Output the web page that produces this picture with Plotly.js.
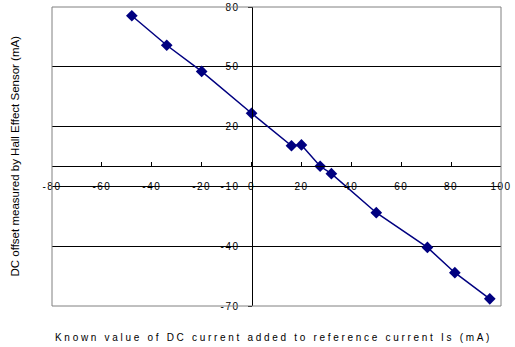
<!DOCTYPE html>
<html><head><meta charset="utf-8">
<script src="https://cdn.plot.ly/plotly-3.0.1.min.js"></script>
<style>
body{margin:0;background:#fff}
#chart{width:515px;height:347px}
.xtick text,.ytick text{letter-spacing:1.5px}
g.annotation[data-index="0"] text{letter-spacing:2.7px}
</style></head><body><div id="chart"></div>
<script>
const knownCurrent = [-48, -34, -20, 0, 16, 20, 27.5, 32, 50, 70.5, 81.5, 95.5];
const measuredOffset = [75.6, 60.8, 47.7, 26.7, 10.4, 10.8, 0.1, -3.6, -23.2, -40.6, -53.3, -66.4];
const xTickVals = [-80, -60, -40, -20, 0, 20, 40, 60, 80, 100];
const yTickVals = [-70, -40, -10, 20, 50, 80];
const xTitle = "Known value of DC current added to reference current Is (mA)";
const yTitle = "DC offset measured by Hall Effect Sensor (mA)";

const font = "Liberation Sans, Arial, sans-serif";
const trace = {
  x: knownCurrent, y: measuredOffset, type: 'scatter', mode: 'lines+markers',
  line: {color: '#000080', width: 1.5},
  marker: {symbol: 'diamond', size: 9, color: '#000080'},
  cliponaxis: false, hoverinfo: 'skip'
};
const layout = {
  width: 515, height: 347,
  margin: {l: 52, r: 14, t: 7, b: 41},
  paper_bgcolor: '#fff', plot_bgcolor: '#fff',
  showlegend: false,
  font: {family: font, size: 10, color: '#000'},
  xaxis: {
    range: [-80, 100], anchor: 'free', position: 70/150,
    tickvals: xTickVals, ticktext: xTickVals.map(String),
    showline: true, linecolor: '#000', linewidth: 1,
    ticks: 'inside', ticklen: 4, tickcolor: '#000',
    ticklabelstandoff: 11,
    showgrid: false, zeroline: false,
    tickfont: {family: font, size: 10, color: '#000'}
  },
  yaxis: {
    range: [-70, 80], anchor: 'free', position: 80/180,
    tickvals: yTickVals, ticktext: yTickVals.map(String),
    showline: true, linecolor: '#000', linewidth: 1,
    ticks: 'outside', ticklen: 4, tickcolor: '#000',
    ticklabelstandoff: 6,
    showgrid: true, gridcolor: '#000', gridwidth: 1, zeroline: false,
    tickfont: {family: font, size: 10, color: '#000'}
  },
  shapes: [{type: 'rect', xref: 'paper', yref: 'paper', x0: 0, x1: 1, y0: 0, y1: 1,
    line: {color: '#808080', width: 1}, layer: 'above'}],
  annotations: [
    {text: xTitle, xref: 'paper', yref: 'paper', x: 0.493, y: -0.1037,
     xanchor: 'center', yanchor: 'middle', showarrow: false,
     font: {family: font, size: 10, color: '#000'}},
    {text: yTitle, xref: 'paper', yref: 'paper', x: -0.0846, y: 0.5, textangle: -90,
     xanchor: 'center', yanchor: 'middle', showarrow: false,
     font: {family: font, size: 11.5, color: '#000'}}
  ]
};
Plotly.newPlot('chart', [trace], layout, {staticPlot: true});
</script></body></html>
